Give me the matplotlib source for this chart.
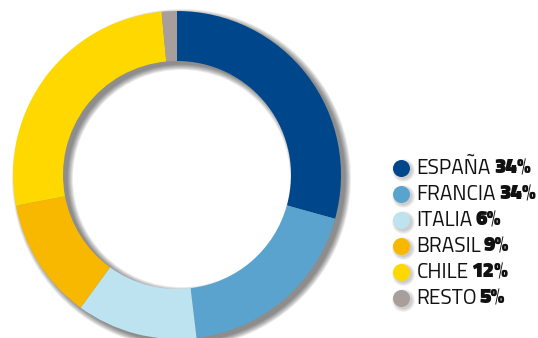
import numpy as np
import matplotlib.pyplot as plt
from matplotlib.patches import Wedge

# slice sizes as drawn (read from the ring), legend text as printed
countries = ['ESPAÑA', 'FRANCIA', 'ITALIA', 'BRASIL', 'CHILE', 'RESTO']
shares = [29.3, 18.8, 11.9, 12.0, 26.5, 1.5]
labels_pct = ['34%', '34%', '6%', '9%', '12%', '5%']
colors = ['#00468b', '#5ba3cf', '#bde3f1', '#f9b800', '#ffd800', '#a89f9c']

W, H = 538, 338
fig = plt.figure(figsize=(W / 100, H / 100), dpi=100)
ax = fig.add_axes([0, 0, 1, 1])

cx, cy = 177, H - 175
r_out, r_in = 164, 114

# soft drop shadow under the ring
for k in range(7):
    ax.add_patch(Wedge((cx + 4.5, cy - 3.5), r_out + k * 0.9, 0, 360,
                       width=r_out - r_in + k * 1.8, color='black',
                       alpha=0.08, lw=0, zorder=1))

ax.pie(shares, colors=colors, startangle=90, counterclock=False,
       center=(cx, cy), radius=r_out, frame=True,
       wedgeprops=dict(width=r_out - r_in, linewidth=0, zorder=2))
ax.set_xlim(0, W)
ax.set_ylim(0, H)
ax.set_aspect('equal')
ax.axis('off')

# legend
lx, ly0, dy = 401, H - 168, 26.0
fig.canvas.draw()
renderer = fig.canvas.get_renderer()
for i, (name, pct, c) in enumerate(zip(countries, labels_pct, colors)):
    y = ly0 - i * dy
    for k in range(4):
        ax.scatter(lx + 2, y - 2, s=150 + k * 40, color='black', alpha=0.05,
                   lw=0, zorder=3)
    ax.scatter(lx, y, s=150, color=c, lw=0, zorder=4)
    t = ax.text(lx + 15.5, y, name, fontsize=15, family='Titillium Web',
                color='#111111', va='center', ha='left', zorder=5)
    bb = t.get_window_extent(renderer)
    x_end = ax.transData.inverted().transform((bb.x1, bb.y0))[0]
    ax.text(x_end + 3, y, pct, fontsize=15, family='Titillium Web', weight=900,
            color='#111111', va='center', ha='left', zorder=5)

fig.savefig('out.png', dpi=100)
